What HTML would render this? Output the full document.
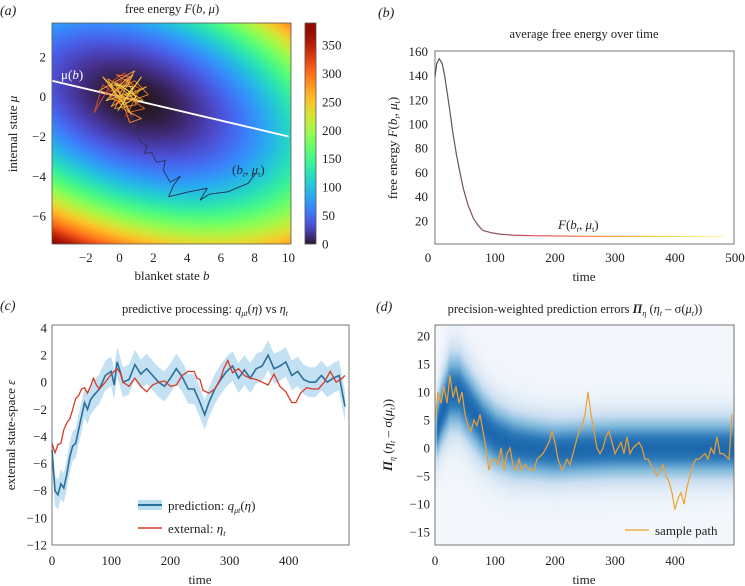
<!DOCTYPE html>
<html><head><meta charset="utf-8">
<style>
body{margin:0;width:745px;height:586px;background:#fff;position:relative;overflow:hidden;font-family:"Liberation Serif",serif}
canvas,svg{position:absolute}
text{font-family:"Liberation Serif",serif;fill:#222}
</style></head>
<body>
<canvas id="cvA" width="239" height="221" style="left:52px;top:23px"></canvas>
<canvas id="cvBar" width="11" height="221" style="left:305px;top:23px"></canvas>
<canvas id="cvD" width="299" height="220" style="left:435px;top:325px"></canvas>
<svg id="s" width="745" height="586" style="left:0;top:0">
<defs>
<linearGradient id="gB" gradientUnits="userSpaceOnUse" x1="435" y1="0" x2="725" y2="0">
<stop offset="0" stop-color="#555"/><stop offset="0.2" stop-color="#8a5560"/><stop offset="0.35" stop-color="#e04050"/><stop offset="0.55" stop-color="#f08040"/><stop offset="0.75" stop-color="#f0d040"/><stop offset="1" stop-color="#fff8b0"/>
</linearGradient>
</defs>
<g>
<text x="0" y="15" font-size="14" font-style="italic">(a)</text>
<text x="172" y="13" font-size="12.5" text-anchor="middle">free energy <tspan font-style="italic">F</tspan>(<tspan font-style="italic">b</tspan>, <tspan font-style="italic">μ</tspan>)</text>
<g id="gA"></g>
<rect x="52" y="23" width="239" height="221" fill="none" stroke="#555" stroke-width="0.8"/>
<rect x="305" y="23" width="11" height="221" fill="none" stroke="#555" stroke-width="0.8"/>
<text x="61" y="79" font-size="13" style="fill:#fff">μ(<tspan font-style="italic">b</tspan>)</text>
<text x="232" y="174" font-size="13" style="fill:#1a2a40">(<tspan font-style="italic">b</tspan><tspan font-size="8" dy="3" font-style="italic">t</tspan><tspan dy="-3">, </tspan><tspan font-style="italic">μ</tspan><tspan font-size="8" dy="3">t</tspan><tspan dy="-3">)</tspan></text>
<text x="172" y="280" font-size="13" text-anchor="middle">blanket state <tspan font-style="italic">b</tspan></text>
<text transform="translate(17,134) rotate(-90)" font-size="13" text-anchor="middle">internal state <tspan font-style="italic">μ</tspan></text>
</g>
<g>
<text x="378" y="17" font-size="14" font-style="italic">(b)</text>
<text x="584" y="38" font-size="12.5" text-anchor="middle">average free energy over time</text>
<rect x="435" y="51" width="299" height="193" fill="none" stroke="#555" stroke-width="0.8"/>
<g id="gB2"></g>
<text x="558" y="229" font-size="13"><tspan font-style="italic">F</tspan>(<tspan font-style="italic">b</tspan><tspan font-size="8" dy="3" font-style="italic">t</tspan><tspan dy="-3">, </tspan><tspan font-style="italic">μ</tspan><tspan font-size="8" dy="3">t</tspan><tspan dy="-3">)</tspan></text>
<text x="584" y="281" font-size="13" text-anchor="middle">time</text>
<text transform="translate(397,148) rotate(-90)" font-size="13" text-anchor="middle">free energy <tspan font-style="italic">F</tspan>(<tspan font-style="italic">b</tspan><tspan font-size="8" dy="3" font-style="italic">t</tspan><tspan dy="-3">, </tspan><tspan font-style="italic">μ</tspan><tspan font-size="8" dy="3">t</tspan><tspan dy="-3">)</tspan></text>
</g>
<g>
<text x="0" y="310" font-size="14" font-style="italic">(c)</text>
<text x="205" y="313" font-size="12.5" text-anchor="middle">predictive processing: <tspan font-style="italic">q</tspan><tspan font-size="8" dy="3" font-style="italic">μt</tspan><tspan dy="-3">(</tspan><tspan font-style="italic">η</tspan>) vs <tspan font-style="italic">η</tspan><tspan font-size="8" dy="3" font-style="italic">t</tspan></text>
<g id="gC"></g>
<rect x="52" y="325" width="297" height="220" fill="none" stroke="#555" stroke-width="0.8"/>
<g>
<rect x="138" y="500" width="24" height="10" fill="#b8dcf0"/>
<line x1="138" y1="505" x2="162" y2="505" stroke="#2a6f9a" stroke-width="2"/>
<text x="168" y="510" font-size="13">prediction: <tspan font-style="italic">q</tspan><tspan font-size="8" dy="3" font-style="italic">μt</tspan><tspan dy="-3">(</tspan><tspan font-style="italic">η</tspan>)</text>
<line x1="138" y1="528" x2="162" y2="528" stroke="#d83a2a" stroke-width="1.5"/>
<text x="168" y="533" font-size="13">external: <tspan font-style="italic">η</tspan><tspan font-size="8" dy="3" font-style="italic">t</tspan></text>
</g>
<text x="200" y="584" font-size="13" text-anchor="middle">time</text>
<text transform="translate(15,435) rotate(-90)" font-size="13" text-anchor="middle">external state-space <tspan font-style="italic">ε</tspan></text>
</g>
<g>
<text x="376" y="311" font-size="14" font-style="italic">(d)</text>
<text x="575" y="313" font-size="12.5" text-anchor="middle">precision-weighted prediction errors <tspan font-weight="bold" font-style="italic">Π</tspan><tspan font-size="8" dy="3" font-style="italic">η</tspan><tspan dy="-3"> (</tspan><tspan font-style="italic">η</tspan><tspan font-size="8" dy="3" font-style="italic">t</tspan><tspan dy="-3"> – σ(</tspan><tspan font-style="italic">μ</tspan><tspan font-size="8" dy="3" font-style="italic">t</tspan><tspan dy="-3">))</tspan></text>
<g id="gD"></g>
<rect x="435" y="325" width="299" height="220" fill="none" stroke="#555" stroke-width="0.8"/>
<line x1="625" y1="530" x2="649" y2="530" stroke="#f0a030" stroke-width="1.3"/>
<text x="655" y="535" font-size="13">sample path</text>
<text x="584" y="584" font-size="13" text-anchor="middle">time</text>
<text transform="translate(392,435) rotate(-90)" font-size="13" text-anchor="middle"><tspan font-weight="bold" font-style="italic">Π</tspan><tspan font-size="8" dy="3" font-style="italic">η</tspan><tspan dy="-3"> (</tspan><tspan font-style="italic">η</tspan><tspan font-size="8" dy="3" font-style="italic">t</tspan><tspan dy="-3"> – σ(</tspan><tspan font-style="italic">μ</tspan><tspan font-size="8" dy="3" font-style="italic">t</tspan><tspan dy="-3">))</tspan></text>
</g>
<g id="ticks" font-size="13"></g>
</svg>
<script>
const quadCenter = [1, -0.2];
const quadCoef = [1.64, 5.27, 2.1];
const energyMax = 390;
const muLine = [[-4, 0.8], [10, -2]];
const trajB = [8.06,7.6,6.4,5.3,4.76,5.2,4.0,2.9,3.2,3.6,3.0,2.6,2.7,2.2,1.9,1.45,1.65,1.16,1.06,0.76,0.96,0.5,0.9,0.3,0.7,-0.2,0.4,-0.5,0.2,-0.3,0.6,-0.8,0.1,1.0,0.3,-0.4,-1.5,-1.0,0.0,0.8,1.5,0.5,1.2,-0.2,0.7,-0.6,0.4,1.7,0.9,-0.1,0.6,1.3,0.2,-0.7,0.5,1.0,-0.3,0.8,0.0,1.4,0.3,-1.2,0.9,-0.5,1.6,0.2,-1.0,0.7,-0.3,1.1,0.4,-0.8,0.6,1.3,-0.1,0.8,-0.6,0.3,1.0,-0.2];
const trajMu = [-3.86,-4.36,-4.78,-4.9,-5.2,-4.6,-4.8,-5.03,-4.44,-4.0,-4.3,-3.7,-3.2,-3.3,-2.8,-2.85,-2.5,-2.2,-1.77,-1.85,-1.5,-1.2,-0.9,-1.0,-0.5,-0.3,0.1,0.5,0.9,0.3,0.6,0.2,-0.4,0.2,1.2,0.8,-0.8,0.6,0.0,-0.2,-0.6,-0.8,0.4,1.1,1.0,-0.1,-0.3,0.1,0.8,0.4,-1.3,-1.1,-0.6,0.9,0.3,-0.4,-0.6,1.1,0.6,-0.2,-0.1,0.3,1.3,-0.5,0.5,0.0,1.0,-0.9,0.7,-0.3,0.9,-0.2,0.2,1.0,-0.7,0.5,0.6,-0.4,0.0,0.7];
const tickA_x = [-2,0,2,4,6,8,10];
const tickA_y = [2,0,-2,-4,-6];
const tickBar = [0,50,100,150,200,250,300,350];

const timeB = [0,3,7,12,16,20,25,30,36,42,47,55,64,72,80,95,108,130,160,250,480];
const energyB = [139,150,154,150,140,127,110,92,74,59,47,33,22,16,12,10,9,8.2,7.7,7.2,7];
const tickB_x = [0,100,200,300,400,500];
const tickB_y = [20,40,60,80,100,120,140,160];

const timePred = [0,5,10,15,20,25,30,35,40,45,50,55,60,65,70,80,90,100,105,110,115,120,130,140,150,160,170,180,190,200,210,220,230,240,250,258,265,275,285,295,305,315,325,335,345,355,365,375,385,395,405,415,425,435,445,455,465,475,485,495];
const predVals = [-5,-8,-8.3,-7.5,-7.8,-6.8,-5.5,-4.7,-4.5,-3.5,-2.5,-1.5,-2,-1.3,-1,-0.5,0.5,0.8,-0.2,1.5,0.8,0,0.2,1.3,0.6,1.0,0.5,0,-0.3,0.3,1.0,0.4,-0.5,-0.5,-1.5,-2.4,-1.5,-0.5,0.2,0.8,1.2,0.3,0.9,0.3,1.0,1.2,2.0,1.0,1.2,1.5,0.5,0.8,0.2,0,0,0.5,0,0.3,0.5,-1.8];
const predBand = 1.1;
const timeExt = [0,5,10,15,20,25,30,35,40,45,50,55,60,65,70,75,80,90,100,110,115,120,130,140,150,160,170,180,190,200,210,220,230,240,245,250,255,265,275,285,290,297,305,315,325,335,345,355,365,375,385,395,405,412,420,430,440,450,460,470,480,490,495];
const extVals = [-4.5,-5.2,-4.6,-4.5,-3.5,-3,-2.7,-2,-1.2,-1,-0.5,-0.4,-0.8,-0.3,0.3,-0.2,-0.5,0,0.6,1.0,0.7,0,-0.3,0.3,-0.3,-0.7,-0.2,0,0.1,-0.3,-0.2,0.5,0.8,0.8,0.3,0.2,-0.6,-0.8,-0.5,0.3,1.0,1.6,0.7,1.0,0.5,0.3,0.2,0,-0.2,0.6,-0.3,-0.7,-1.5,-1.5,-0.8,-0.4,-0.5,-0.5,0,0.8,0,0.3,0.5];
const tickC_x = [0,100,200,300,400];
const tickC_y = [4,2,0,-2,-4,-6,-8,-10,-12];

const timeSample = [0,5,10,15,20,25,30,35,40,45,50,55,60,65,70,75,80,85,90,95,100,105,110,115,120,125,130,135,140,145,150,160,165,170,180,190,195,200,205,212,220,225,235,240,245,250,255,260,265,270,275,280,285,290,295,300,305,310,315,320,325,330,340,345,350,355,360,365,370,375,380,385,390,395,400,405,410,415,420,425,430,435,440,450,455,460,465,470,475,480,490,495];
const sampleVals = [5,10,8,11,8,13,9,11,8,10,6,4,3,5,4,6,3,0,-4,-2,-2,-3,0,-4,-1,0,-3,-4,-2,-4,-3,-4,-4,-2,-1,1,3,1,-2,-4,-2,-3,1,3,4,6,10,6,3,0,-1,0,2,3,1,-1,0,1,-1,2,-1,0,1,0,-2,-2,-3,-4,-5,-4,-3,-5,-6,-8,-11,-9,-8,-10,-7,-5,-3,-2,-2,-1,-2,0,-1,2,-1,-1,-2,6];
const timeDens = [0,10,25,40,60,80,100,130,160,200,300,500];
const meanDens = [2,6,10,10,7,4,2,0.5,0,-0.5,0,0];
const sdDens = [3.5,4.3,5,5,4.8,4.6,4.4,4.2,4,3.9,3.9,3.9];
const tickD_x = [0,100,200,300,400];
const tickD_y = [20,15,10,5,0,-5,-10,-15];

const xA = b => 52 + (b + 4) / 14.15 * 239;
const yA = m => 23 + (3.7 - m) / 11.1 * 221;
const xB = t => 435 + t * 0.6;
const yB = v => 245 - v * 1.21;
const xC = t => 52 + t * 0.592;
const yC = v => 328 + (4 - v) * 13.56;
const xD = t => 435 + t * 0.6;
const yD = v => 336 + (20 - v) * 5.6;
const NS = 'http://www.w3.org/2000/svg';
function el(tag, parent){const e=document.createElementNS(NS,tag);parent.appendChild(e);return e;}
function turbo(x){x=Math.max(0,Math.min(1,x));
 const r=0.13572138+x*(4.6153926+x*(-42.66032258+x*(132.13108234+x*(-152.94239396+x*59.28637943))));
 const g=0.09140261+x*(2.19418839+x*(4.84296658+x*(-14.18503333+x*(4.27729857+x*2.82956604))));
 const b=0.1066733+x*(12.64194608+x*(-60.58204836+x*(110.36276771+x*(-89.90310912+x*27.34824973))));
 return [r,g,b].map(c=>Math.round(255*Math.max(0,Math.min(1,c))));}
function interp(xs, ys, x){ if(x<=xs[0])return ys[0]; for(let i=1;i<xs.length;i++){ if(x<=xs[i]){const f=(x-xs[i-1])/(xs[i]-xs[i-1]);return ys[i-1]+f*(ys[i]-ys[i-1]);}} return ys[ys.length-1];}

(function(){
 const c=document.getElementById('cvA'),ctx=c.getContext('2d'),im=ctx.createImageData(239,221);
 for(let py=0;py<221;py++)for(let px=0;px<239;px++){
  const b=-4+(px+0.5)/239*14.15, m=3.7-(py+0.5)/221*11.1;
  const u=b-quadCenter[0], v=m-quadCenter[1];
  const F=quadCoef[0]*u*u+quadCoef[1]*v*v+quadCoef[2]*u*v;
  const col=turbo(F/energyMax); const k=(py*239+px)*4;
  im.data[k]=col[0];im.data[k+1]=col[1];im.data[k+2]=col[2];im.data[k+3]=255;}
 ctx.putImageData(im,0,0);
 const cb=document.getElementById('cvBar'),cx=cb.getContext('2d');
 for(let py=0;py<221;py++){const v=(244-(23+py))/199*350;const col=turbo(v/energyMax);cx.fillStyle=`rgb(${col})`;cx.fillRect(0,py,11,1);}
})();
const gA=document.getElementById('gA');
const line=el('line',gA);


line.setAttribute('x1',xA(muLine[0][0]));line.setAttribute('y1',yA(muLine[0][1]));
line.setAttribute('x2',xA(muLine[1][0]));line.setAttribute('y2',yA(muLine[1][1]));
line.setAttribute('stroke','#fff');line.setAttribute('stroke-width','1.8');
const stops=[[0,[30,42,80]],[0.25,[50,50,95]],[0.33,[200,40,30]],[0.6,[240,130,40]],[1,[240,215,70]]];
function trajColor(f){for(let i=1;i<stops.length;i++){if(f<=stops[i][0]){const a=stops[i-1],b=stops[i],g=(f-a[0])/(b[0]-a[0]);return 'rgb('+a[1].map((c,j)=>Math.round(c+g*(b[1][j]-c))).join(',')+')';}}return 'rgb(240,215,70)';}
for(let i=1;i<trajB.length;i++){
 const s=el('line',gA);
 
 
 s.setAttribute('x1',xA(trajB[i-1]));s.setAttribute('y1',yA(trajMu[i-1]));
 s.setAttribute('x2',xA(trajB[i]));s.setAttribute('y2',yA(trajMu[i]));
 s.setAttribute('stroke',trajColor(i/(trajB.length-1)));s.setAttribute('stroke-width','0.9');
}
const tk=document.getElementById('ticks');
function tick(x,y,txt,anchor){const t=el('text',tk);
 
 
 t.setAttribute('x',x);t.setAttribute('y',y);t.setAttribute('text-anchor',anchor);t.textContent=txt;}
const fmt=v=>v<0?'−'+Math.abs(v):String(v);
tickA_x.forEach(v=>tick(xA(v),262,fmt(v),'middle'));
tickA_y.forEach(v=>tick(46,yA(v)+4.5,fmt(v),'end'));
tickBar.forEach(v=>tick(322,244-v/350*199+4.5,String(v),'start'));
const gB=document.getElementById('gB2');
const pb=el('path',gB);


pb.setAttribute('d',timeB.map((t,i)=>(i?'L':'M')+xB(t).toFixed(1)+','+yB(energyB[i]).toFixed(1)).join(''));
pb.setAttribute('fill','none');pb.setAttribute('stroke','url(#gB)');pb.setAttribute('stroke-width','1.2');
tickB_x.forEach(v=>tick(v===0?428:xB(v),262,String(v),'middle'));
tickB_y.forEach(v=>tick(428,yB(v)+4.5,String(v),'end'));
const gC=document.getElementById('gC');
const band=el('path',gC);


let d=timePred.map((t,i)=>(i?'L':'M')+xC(t).toFixed(1)+','+yC(predVals[i]+predBand).toFixed(1)).join('');
for(let i=timePred.length-1;i>=0;i--)d+='L'+xC(timePred[i]).toFixed(1)+','+yC(predVals[i]-predBand).toFixed(1);
band.setAttribute('d',d+'Z');band.setAttribute('fill','#b8dcf0');band.setAttribute('opacity','0.85');
const pr=el('path',gC);


pr.setAttribute('d',timePred.map((t,i)=>(i?'L':'M')+xC(t).toFixed(1)+','+yC(predVals[i]).toFixed(1)).join(''));
pr.setAttribute('fill','none');pr.setAttribute('stroke','#2a6f9a');pr.setAttribute('stroke-width','1.6');
const ex=el('path',gC);


ex.setAttribute('d',timeExt.map((t,i)=>(i?'L':'M')+xC(t).toFixed(1)+','+yC(extVals[i]).toFixed(1)).join(''));
ex.setAttribute('fill','none');ex.setAttribute('stroke','#d83a2a');ex.setAttribute('stroke-width','1.3');
tickC_x.forEach(v=>tick(xC(v),565,String(v),'middle'));
tickC_y.forEach(v=>tick(47,yC(v)+4.5,fmt(v),'end'));
(function(){
 const c=document.getElementById('cvD'),ctx=c.getContext('2d'),im=ctx.createImageData(299,220);
 const bs=[[0,[243,247,252]],[0.3,[204,223,241]],[0.6,[120,180,218]],[0.85,[45,122,186]],[1,[22,96,168]]];
 function blues(f){for(let i=1;i<bs.length;i++){if(f<=bs[i][0]){const a=bs[i-1],b=bs[i],g=(f-a[0])/(b[0]-a[0]);return a[1].map((q,j)=>q+g*(b[1][j]-q));}}return bs[4][1];}
 for(let px=0;px<299;px++){const t=(px+0.5)/0.6;const m=interp(timeDens,meanDens,t),s=interp(timeDens,sdDens,t);
  for(let py=0;py<220;py++){const v=20-((325+py+0.5)-336)/5.6;const z=(v-m)/s;const f=0.95*Math.exp(-0.5*z*z)*(t<3?0.6:1);
   const col=blues(f);const k=(py*299+px)*4;im.data[k]=col[0];im.data[k+1]=col[1];im.data[k+2]=col[2];im.data[k+3]=255;}}
 ctx.putImageData(im,0,0);
})();
const gD=document.getElementById('gD');
const sp=el('path',gD);


sp.setAttribute('d',timeSample.map((t,i)=>(i?'L':'M')+xD(t).toFixed(1)+','+yD(sampleVals[i]).toFixed(1)).join(''));
sp.setAttribute('fill','none');sp.setAttribute('stroke','#f0a030');sp.setAttribute('stroke-width','1.2');
tickD_x.forEach(v=>tick(xD(v),565,String(v),'middle'));
tickD_y.forEach(v=>tick(430,yD(v)+4.5,fmt(v),'end'));
</script>
</body></html>
